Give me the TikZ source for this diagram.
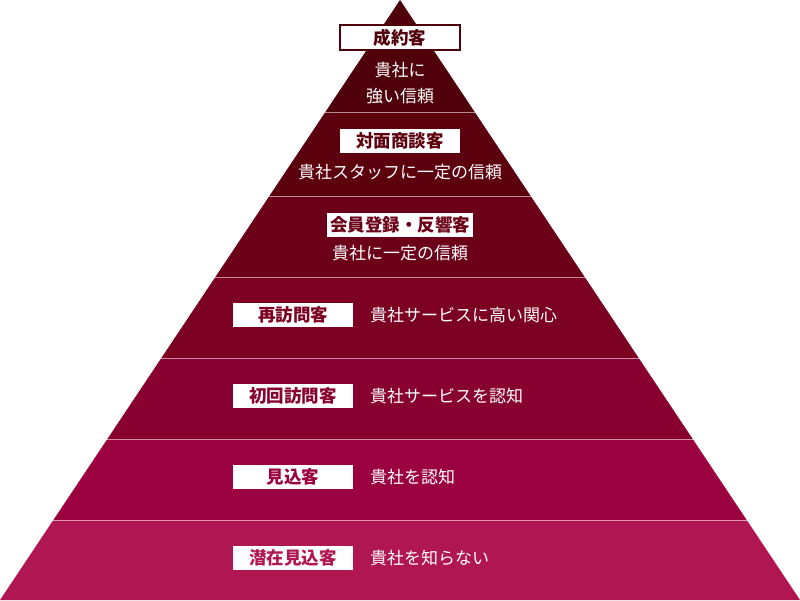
\documentclass[tikz,border=0pt]{standalone}
\usepackage{fontspec}
\setmainfont{Noto Sans CJK JP}
\usetikzlibrary{positioning}

\definecolor{lvA}{HTML}{50000A}
\definecolor{lvB}{HTML}{5D000E}
\definecolor{lvC}{HTML}{6B0018}
\definecolor{lvD}{HTML}{7B0022}
\definecolor{lvE}{HTML}{88002F}
\definecolor{lvF}{HTML}{9B0040}
\definecolor{lvG}{HTML}{B01752}

\tikzset{
    tag/.style={fill=white, minimum width=120pt, minimum height=24pt, inner sep=0pt,
        font=\fontsize{17.5}{19}\selectfont\bfseries},
    say/.style={text=white, inner sep=0pt, font=\fontsize{17}{26}\selectfont},
    sepline/.style={white, opacity=0.55, line width=1pt}
}

\begin{document}
\begin{tikzpicture}[x=1pt, y=-1pt]
            \useasboundingbox (0,0) rectangle (800,600);

            % layers of the pyramid, apex at (400,0), base 0..800
            \foreach \top/\bot/\col in {
                0/112/lvA,
                112/196/lvB,
                196/277/lvC,
                277/358/lvD,
                358/439/lvE,
                439/520/lvF,
                520/600/lvG} {
                \fill[\col] ({400-2*\top/3}, \top) -- ({400+2*\top/3}, \top)
                    -- ({400+2*\bot/3}, \bot) -- ({400-2*\bot/3}, \bot) -- cycle;
            }

            \foreach \y in {112, 196, 277, 358, 439, 520} {
                \draw[sepline] ({400-2*\y/3}, \y) -- ({400+2*\y/3}, \y);
            }

            % upper three layers: label over text
            \node[tag, text=lvA, draw=lvA, line width=1.2pt, minimum height=25pt] (seiyaku) at (400, 37.5) {成約客};
            \node[say, align=center] (seiyakuTxt) at (400, 83) {貴社に\\強い信頼};

            \node[tag, text=lvB] (taimen) at (400, 141) {対面商談客};
            \node[say] (taimenTxt) at (400, 172) {貴社スタッフに一定の信頼};

            \node[tag, text=lvC, minimum width=146pt] (kaiin) at (400, 225) {会員登録・反響客};
            \node[say] (kaiinTxt) at (400, 253) {貴社に一定の信頼};

            % lower four layers: label beside text
            \foreach \name/\yy/\col/\lab/\txt in {
                saihoumon/315/lvD/再訪問客/貴社サービスに高い関心,
                shokai/396/lvE/初回訪問客/貴社サービスを認知,
                mikomi/477/lvF/見込客/貴社を認知,
                senzai/558/lvG/潜在見込客/貴社を知らない} {
                \node[tag, text=\col] (\name) at (293, \yy) {\lab};
                \node[say, anchor=west] (\name Txt) at (370, \yy) {\txt};
            }
        \end{tikzpicture}
\end{document}
